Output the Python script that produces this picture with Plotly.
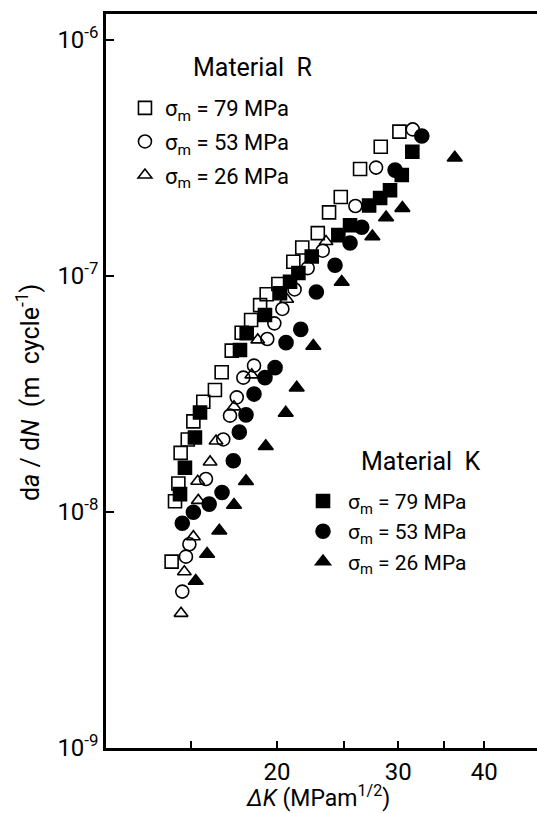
import plotly.graph_objects as go

# ---- data (ΔK in MPa m^1/2, da/dN in m/cycle) ----
r79_dk = [30.11, 28.29, 26.40, 24.75, 23.80, 22.92, 21.76, 21.12, 20.09, 19.32, 18.90, 18.34,
          17.77, 17.19, 16.62, 16.25, 15.63, 15.12, 14.84, 14.49, 14.38, 14.22, 14.06]
r79_da = [4.09e-7, 3.53e-7, 2.84e-7, 2.16e-7, 1.86e-7, 1.52e-7, 1.32e-7, 1.15e-7, 9.25e-8, 8.37e-8,
          7.53e-8, 6.51e-8, 5.75e-8, 4.83e-8, 3.91e-8, 3.29e-8, 2.93e-8, 2.42e-8, 2.03e-8, 1.78e-8,
          1.32e-8, 1.11e-8, 6.16e-9]

r53_dk = [31.48, 27.85, 25.99, 23.30, 22.16, 21.21, 20.36, 19.82, 19.36, 18.52, 17.87, 17.48,
          17.09, 16.71, 15.77, 14.92, 14.75, 14.57]
r53_da = [4.18e-7, 2.88e-7, 1.98e-7, 1.28e-7, 1.08e-7, 8.77e-8, 7.25e-8, 6.30e-8, 5.41e-8, 4.17e-8,
          3.71e-8, 3.06e-8, 2.56e-8, 2.03e-8, 1.38e-8, 7.30e-9, 6.47e-9, 4.60e-9]

r26_dk = [23.56, 20.66, 18.75, 18.38, 17.32, 16.31, 15.99, 15.34, 15.37, 15.12, 14.67, 14.51]
r26_da = [1.40e-7, 7.97e-8, 5.36e-8, 3.81e-8, 2.79e-8, 2.00e-8, 1.63e-8, 1.35e-8, 1.12e-8,
          7.86e-9, 5.58e-9, 3.72e-9]

k79_dk = [31.44, 30.35, 29.18, 28.23, 27.21, 25.53, 24.55, 22.46, 21.48, 20.89, 20.20, 19.21,
          18.07, 17.67, 15.46, 15.20, 14.70, 14.46]
k79_da = [3.36e-7, 2.68e-7, 2.31e-7, 2.14e-7, 1.99e-7, 1.64e-7, 1.49e-7, 1.21e-7, 1.03e-7, 9.46e-8,
          8.45e-8, 6.84e-8, 5.72e-8, 4.86e-8, 2.64e-8, 2.07e-8, 1.54e-8, 1.19e-8]

k53_dk = [32.45, 29.68, 26.55, 25.53, 24.28, 22.81, 21.65, 20.61, 19.87, 19.21, 18.52, 18.03,
          17.63, 17.28, 16.64, 15.94, 15.12, 14.57]
k53_da = [3.92e-7, 2.81e-7, 1.61e-7, 1.38e-7, 1.11e-7, 8.55e-8, 5.94e-8, 5.22e-8, 4.09e-8, 3.71e-8,
          3.16e-8, 2.58e-8, 2.18e-8, 1.65e-8, 1.21e-8, 1.08e-8, 9.97e-9, 8.96e-9]

k26_dk = [36.23, 30.41, 28.80, 27.51, 24.83, 22.58, 21.36, 20.59, 19.26, 18.03, 17.32, 16.49,
          15.83, 15.24]
k26_da = [3.17e-7, 1.94e-7, 1.77e-7, 1.47e-7, 9.43e-8, 5.05e-8, 3.36e-8, 2.63e-8, 1.90e-8,
          1.35e-8, 1.07e-8, 8.33e-9, 6.64e-9, 5.10e-9]

x_tickvals = [15, 20, 25, 30, 35, 40]
x_ticktext = ["", "20", "", "30", "", "40"]
y_tickvals = [1e-9, 1e-8, 1e-7, 1e-6]
y_ticktext = ["10<sup>-9</sup>", "10<sup>-8</sup>", "10<sup>-7</sup>", "10<sup>-6</sup>"]

FONT = "Roboto"
series = [
    (r79_dk, r79_da, "square-open", "σ<sub>m</sub> = 79 MPa", "legend", 13),
    (r53_dk, r53_da, "circle-open", "σ<sub>m</sub> = 53 MPa", "legend", 13),
    (r26_dk, r26_da, "triangle-up-open", "σ<sub>m</sub> = 26 MPa", "legend", 12),
    (k79_dk, k79_da, "square", "σ<sub>m</sub> = 79 MPa", "legend2", 13),
    (k53_dk, k53_da, "circle", "σ<sub>m</sub> = 53 MPa", "legend2", 14),
    (k26_dk, k26_da, "triangle-up", "σ<sub>m</sub> = 26 MPa", "legend2", 13),
]

fig = go.Figure()
for i, (xs, ys, sym, name, lg, sz) in enumerate(series):
    fig.add_trace(go.Scatter(
        x=xs, y=ys, mode="markers", name=name, legend=lg, legendgroup=f"g{i}",
        marker=dict(symbol=sym, size=sz, color="black", line=dict(color="black", width=1.6)),
    ))

fig.update_layout(
    width=537, height=813,
    margin=dict(l=106, r=0, t=14, b=65),
    paper_bgcolor="white", plot_bgcolor="white",
    font=dict(family=FONT, color="black", size=23),
    xaxis=dict(type="log", range=[1.0527, 1.6785], tickvals=x_tickvals, ticktext=x_ticktext,
               ticks="inside", ticklen=7, tickwidth=2, tickcolor="black",
               showline=True, linecolor="black", linewidth=2.5, mirror=True,
               showgrid=False, zeroline=False, tickfont=dict(size=24, family=FONT)),
    yaxis=dict(type="log", range=[-9, -5.8898], tickvals=y_tickvals, ticktext=y_ticktext,
               ticks="inside", ticklen=8, tickwidth=2, tickcolor="black",
               showline=True, linecolor="black", linewidth=2.5,
               showgrid=False, zeroline=False, tickfont=dict(size=24, family=FONT)),
    legend=dict(x=0.044, y=0.9005, xanchor="left", yanchor="top",
                bgcolor="rgba(0,0,0,0)", borderwidth=0, tracegroupgap=2,
                font=dict(size=22, family=FONT)),
    legend2=dict(x=0.4455, y=0.364, xanchor="left", yanchor="top",
                 bgcolor="rgba(0,0,0,0)", borderwidth=0, tracegroupgap=0, itemwidth=40,
                 font=dict(size=21, family=FONT)),
    showlegend=True,
)

# legend headings
fig.add_annotation(text="Material\u00a0\u00a0R", xref="paper", yref="paper",
                   x=(252 - 106) / 431, y=(748 - 68) / 734, xanchor="center", yanchor="middle",
                   showarrow=False, font=dict(size=25, family=FONT))
fig.add_annotation(text="Material\u00a0\u00a0K", xref="paper", yref="paper",
                   x=(420 - 106) / 431, y=(748 - 461) / 734, xanchor="center", yanchor="middle",
                   showarrow=False, font=dict(size=25, family=FONT))

# axis titles
fig.add_annotation(text="<i>ΔK</i> (MPam<sup>1/2</sup>)", xref="paper", yref="paper",
                   x=(318 - 106) / 431, y=-(796 - 748) / 734, xanchor="center", yanchor="middle",
                   showarrow=False, font=dict(size=23, family=FONT))
fig.add_annotation(text="d<i>a</i> / d<i>N</i>  (m  cycle<sup>-1</sup>)", xref="paper", yref="paper",
                   x=(28 - 106) / 431, y=(748 - 393) / 734, xanchor="center", yanchor="middle",
                   textangle=-90, showarrow=False, font=dict(size=25, family=FONT))

fig.write_html("out.html")
